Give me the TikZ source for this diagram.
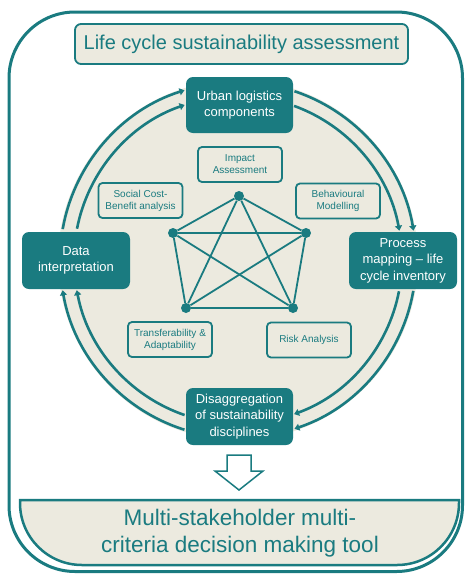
\documentclass[tikz,border=0pt]{standalone}
\usepackage{fontspec}
\setmainfont{Liberation Sans}
\usetikzlibrary{arrows.meta}
\definecolor{teal1}{RGB}{26,123,128}
\definecolor{beige}{RGB}{236,234,223}
\begin{document}
\begin{tikzpicture}[x=1pt,y=-1pt,
  tealbox/.style={fill=teal1, rounded corners=7pt, text=white, font=\fontsize{13}{16.5}\selectfont, align=center, inner sep=0pt},
  smallbox/.style={draw=teal1, line width=1.8pt, fill=beige, rounded corners=4pt, text=teal1, font=\fontsize{10}{12}\selectfont, align=center, minimum width=84pt, minimum height=35pt, inner sep=0pt},
  dot/.style={circle, fill=teal1, minimum size=10pt, inner sep=0pt},
  ring/.style={teal1, line width=2.6pt, -{Triangle[length=5pt,width=7pt]}},
  edgeline/.style={teal1, line width=1.8pt}
]
\useasboundingbox (0,0) rectangle (465,574);
% outer frame
\draw[teal1, line width=3pt, rounded corners=66pt] (9,12) rectangle (462.5,571.5);
% title
\node[draw=teal1, line width=1.8pt, fill=beige, rounded corners=6pt, minimum width=333pt, minimum height=40pt, inner sep=0pt, text=teal1, font=\fontsize{20}{24}\selectfont] (title) at (241.5,44) {Life cycle sustainability assessment};
% disc
\coordinate (c) at (238,260);
\fill[beige] (c) circle[radius=180];
% ring arcs
\draw[ring] (c) ++(190:178) arc[start angle=190, end angle=252.5, radius=178];
\draw[ring] (c) ++(191:164) arc[start angle=191, end angle=251, radius=164];
\draw[ring] (c) ++(288.5:178) arc[start angle=288.5, end angle=350.5, radius=178];
\draw[ring] (c) ++(290:164) arc[start angle=290, end angle=349.7, radius=164];
\draw[ring] (c) ++(10:178) arc[start angle=10, end angle=71.5, radius=178];
\draw[ring] (c) ++(11:164) arc[start angle=11, end angle=70, radius=164];
\draw[ring] (c) ++(107.5:178) arc[start angle=107.5, end angle=170.2, radius=178];
\draw[ring] (c) ++(109:164) arc[start angle=109, end angle=169.4, radius=164];
% pentagon
\node[dot] (pt) at (239,196) {};
\node[dot] (pl) at (173,233) {};
\node[dot] (pr) at (306,233) {};
\node[dot] (pbl) at (186,308) {};
\node[dot] (pbr) at (293,308) {};
\foreach \a/\b in {pt/pl,pt/pr,pt/pbl,pt/pbr,pl/pr,pl/pbl,pl/pbr,pr/pbl,pr/pbr,pbl/pbr}
  \draw[edgeline] (\a) -- (\b);
% small boxes
\node[smallbox] (impact) at (240,164.5) {Impact\\Assessment};
\node[smallbox] (social) at (140.5,200.5) {Social Cost-\\Benefit analysis};
\node[smallbox] (behav) at (338,201) {Behavioural\\Modelling};
\node[smallbox] (trans) at (170,339.5) {Transferability \&\\Adaptability};
\node[smallbox] (risk) at (309,340) {Risk Analysis};
% teal boxes
\node[tealbox, minimum width=107pt, minimum height=56pt] (urban) at (239.5,105) {Urban logistics\\components};
\node[tealbox, minimum width=108pt, minimum height=57pt] (data) at (76,260.5) {Data\\interpretation};
\node[tealbox, minimum width=108pt, minimum height=57pt] (process) at (403,260.5) {Process\\mapping -- life\\cycle inventory};
\node[tealbox, minimum width=107pt, minimum height=57pt] (disagg) at (239.5,416.5) {Disaggregation\\of sustainability\\disciplines};
% block arrow
\draw[teal1, line width=1.5pt, fill=white, line join=miter] (227,455) -- (251,455) -- (251,471) -- (263,471) -- (239,490) -- (215,471) -- (227,471) -- cycle;
% bottom box
\draw[teal1, line width=2.5pt, fill=beige] (20,500) -- (459,500) -- (459,503) arc[start angle=0, end angle=90, radius=62] -- (82,565) arc[start angle=90, end angle=180, radius=62] -- cycle;
\node[text=teal1, font=\fontsize{22.5}{27}\selectfont, align=center, inner sep=0pt] (mcdm) at (240,533) {Multi-stakeholder multi-\\criteria decision making tool};
\end{tikzpicture}
\end{document}
